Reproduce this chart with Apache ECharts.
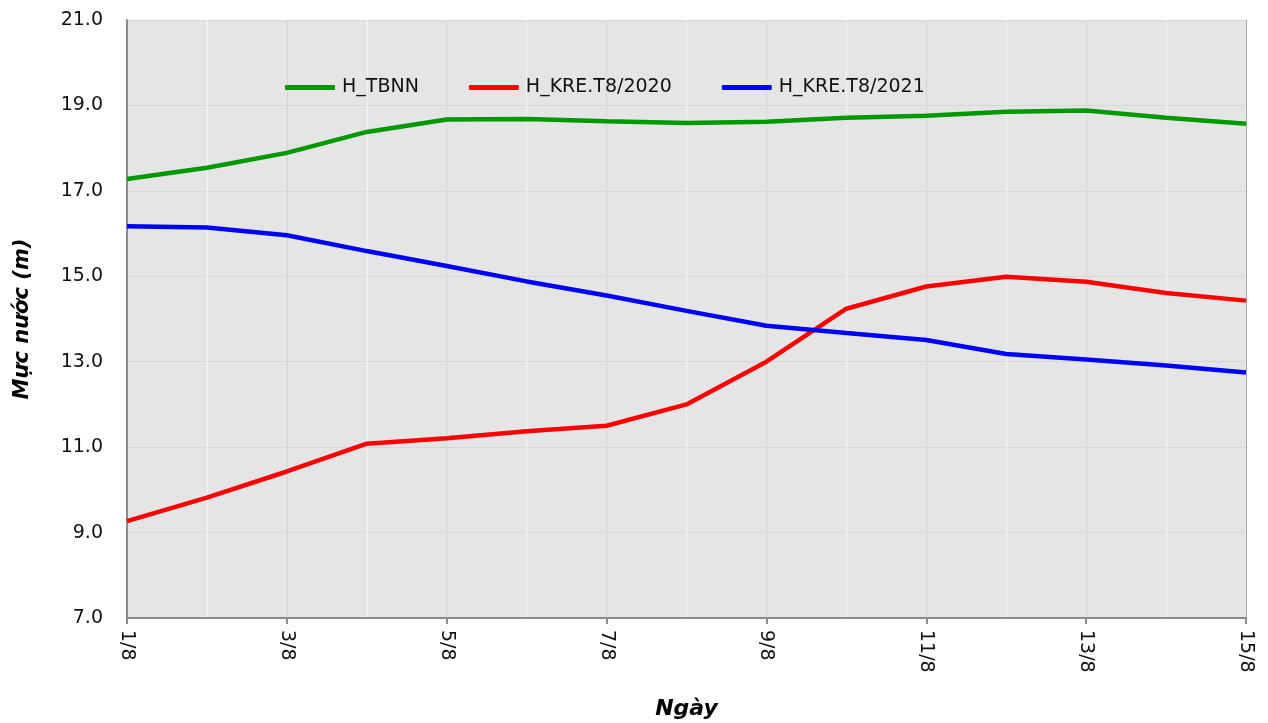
<!DOCTYPE html>
<html>
<head>
<meta charset="utf-8">
<script src="https://cdn.jsdelivr.net/npm/echarts@6/dist/echarts.min.js"></script>
<style>
html,body{margin:0;padding:0;background:#fff;}
#main{width:1268px;height:723px;}
</style>
</head>
<body>
<div id="main"></div>
<script>
var categories = ['1/8','2/8','3/8','4/8','5/8','6/8','7/8','8/8','9/8','10/8','11/8','12/8','13/8','14/8','15/8'];
var seriesNames = ['H_TBNN','H_KRE.T8/2020','H_KRE.T8/2021'];
var hTBNN = [17.28,17.54,17.89,18.38,18.67,18.68,18.63,18.59,18.62,18.71,18.76,18.85,18.88,18.71,18.57];
var hKRE2020 = [9.27,9.82,10.43,11.08,11.21,11.37,11.50,12.00,13.00,14.24,14.76,14.99,14.87,14.61,14.43];
var hKRE2021 = [16.17,16.14,15.96,15.59,15.24,14.88,14.55,14.19,13.84,13.67,13.51,13.18,13.05,12.91,12.75];
var yMin = 7, yMax = 21;

var font = 'DejaVu Sans';
var chart = echarts.init(document.getElementById('main'));
chart.setOption({
  backgroundColor: '#ffffff',
  animation: false,
  color: ['#009900','#ff0000','#0000ff'],
  grid: {left:127, right:22, top:20, bottom:105, show:true, backgroundColor:'#e5e5e5', borderWidth:0,
         containLabel:false, outerBoundsMode:'none'},
  legend: {
    left: 285, top: 78, padding: 0, itemWidth: 50, itemHeight: 5, itemGap: 50, icon: 'roundRect',
    textStyle: {fontFamily: font, fontSize: 19, color: '#111', padding:[0,0,0,2]},
    data: seriesNames
  },
  xAxis: {
    type: 'category', data: categories, boundaryGap: false,
    name: 'Ngày', nameLocation: 'middle', nameGap: 80,
    nameTextStyle: {fontFamily: font, fontSize: 22, fontWeight: 'bold', fontStyle: 'italic', color: '#000'},
    axisLine: {lineStyle: {color: '#8c8c8c', width: 2}},
    axisTick: {show: true, interval: 1, length: 6, lineStyle: {color: '#8c8c8c', width: 2}},
    axisLabel: {interval: 1, rotate: -90, margin: 12, fontFamily: font, fontSize: 19, color: '#111'},
    splitLine: {show: true, interval: 0, lineStyle: {color: ['#d5d5d5','#f3f3f3'], width: 1}}
  },
  yAxis: [{
    type: 'value', min: yMin, max: yMax, interval: 1,
    name: 'Mực nước (m)', nameLocation: 'middle', nameGap: 94, nameRotate: 90,
    nameTextStyle: {fontFamily: font, fontSize: 21, fontWeight: 'bold', fontStyle: 'italic', color: '#000'},
    axisLine: {show: true, lineStyle: {color: '#8c8c8c', width: 2}},
    axisTick: {show: false},
    axisLabel: {margin: 24, fontFamily: font, fontSize: 19, color: '#111',
      formatter: function(v){ return (Math.round(v) % 2 === 1) ? v.toFixed(1) : ''; }},
    splitLine: {show: true, lineStyle: {color: ['#d6d6d6','rgba(0,0,0,0)'], width: 1}}
  },{
    type: 'value', min: yMin, max: yMax, position: 'right',
    axisLine: {show: true, lineStyle: {color: '#a8a8a8', width: 1}},
    axisTick: {show: false}, axisLabel: {show: false}, splitLine: {show: false}
  }],
  series: [
    {name: seriesNames[0], type: 'line', data: hTBNN, symbol: 'none', lineStyle: {width: 4.5}},
    {name: seriesNames[1], type: 'line', data: hKRE2020, symbol: 'none', lineStyle: {width: 4.5}},
    {name: seriesNames[2], type: 'line', data: hKRE2021, symbol: 'none', lineStyle: {width: 4.5}}
  ]
});
</script>
</body>
</html>
